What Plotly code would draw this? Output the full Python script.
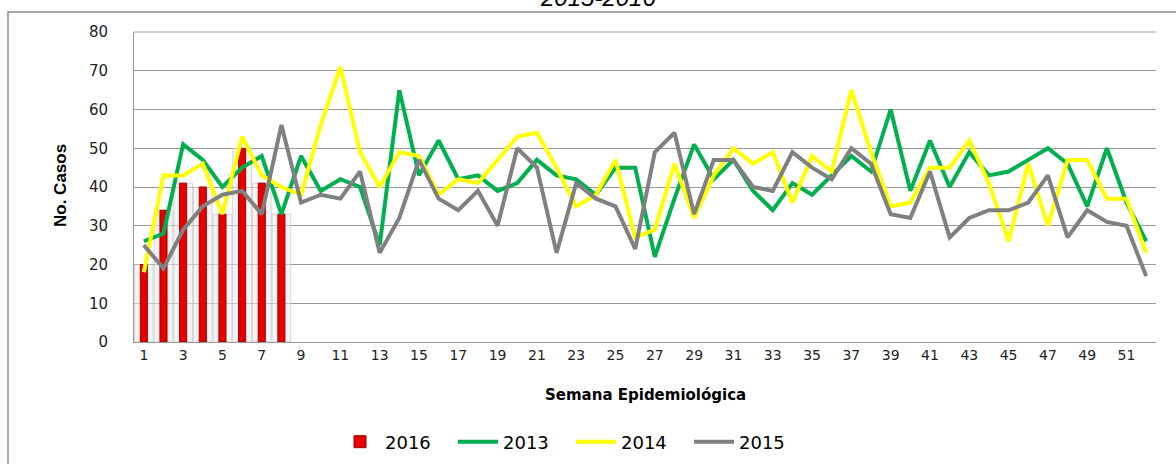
import plotly.graph_objects as go

weeks = list(range(1, 53))
weeks_2016 = list(range(1, 9))
cases_2016 = [20, 34, 41, 40, 33, 50, 41, 33]

cases_2013 = [26, 28, 51, 47, 40, 45, 48, 33, 48, 39, 42, 40, 25, 65, 43, 52, 42, 43, 39, 41,
              47, 43, 42, 38, 45, 45, 22, 37, 51, 42, 47, 39, 34, 41, 38, 43, 48, 44, 60, 39,
              52, 40, 49, 43, 44, 47, 50, 46, 35, 50, 36, 26]
cases_2014 = [18, 43, 43, 46, 33, 53, 43, 40, 38, 56, 71, 49, 40, 49, 48, 38, 42, 41, 47, 53,
              54, 45, 35, 38, 47, 27, 29, 46, 32, 43, 50, 46, 49, 36, 48, 44, 65, 49, 35, 36,
              45, 45, 52, 41, 26, 46, 30, 47, 47, 37, 37, 23]
cases_2015 = [25, 19, 29, 35, 38, 39, 33, 56, 36, 38, 37, 44, 23, 32, 47, 37, 34, 39, 30, 50,
              45, 23, 41, 37, 35, 24, 49, 54, 33, 47, 47, 40, 39, 49, 45, 42, 50, 46, 33, 32,
              44, 27, 32, 34, 34, 36, 43, 27, 34, 31, 30, 17]

x_ticks = list(range(1, 53, 2))
y_ticks = list(range(0, 81, 10))

W, H = 1176, 464
L, R, T, B = 134, 1156, 32, 342
pw, ph = R - L, B - T


def px(x):
    return (x - L) / pw


def py(y):
    return (B - y) / ph


fig = go.Figure()

# light shading box behind bars (Excel 3D look)
fig.add_trace(go.Bar(x=weeks_2016, y=cases_2016, width=0.95, showlegend=False, hoverinfo="skip",
                     marker=dict(color="rgba(235,235,235,0.55)",
                                 line=dict(color="rgba(190,190,190,0.6)", width=1))))
fig.add_trace(go.Bar(x=weeks_2016, y=cases_2016, width=0.36, name="2016",
                     marker=dict(color="#E60000", line=dict(color="#A00000", width=1))))

line_specs = [("2013", cases_2013, "#00B050"),
              ("2014", cases_2014, "#FFFF00"),
              ("2015", cases_2015, "#808080")]
for name, vals, col in line_specs:
    fig.add_trace(go.Scatter(x=weeks, y=vals, mode="lines", name=name,
                             line=dict(color=col, width=4)))

fig.update_layout(
    width=W, height=H,
    margin=dict(l=L, r=W - R, t=T, b=H - B, autoexpand=False),
    plot_bgcolor="white", paper_bgcolor="white",
    barmode="overlay",
    font=dict(family="DejaVu Sans", size=14, color="#000000"),
    showlegend=True,
    legend=dict(orientation="h", x=px(335), y=py(442), xanchor="left", yanchor="middle",
                font=dict(family="DejaVu Sans", size=18, color="#000"), traceorder="normal",
                entrywidth=63, entrywidthmode="pixels", itemwidth=40,
                tracegroupgap=0, bgcolor="rgba(0,0,0,0)"),
    xaxis=dict(range=[0.5, 52.5], tickmode="array", tickvals=x_ticks, automargin=False,
               ticktext=[str(v) for v in x_ticks], showgrid=False, zeroline=False,
               showline=True, linecolor="#999999", linewidth=1, ticks="",
               tickfont=dict(family="DejaVu Sans", size=14, color="#222")),
    yaxis=dict(range=[0, 80], tickmode="array", tickvals=y_ticks, showgrid=True, automargin=False,
               gridcolor="#9a9a9a", gridwidth=1, zeroline=False, showline=True,
               linecolor="#999999", linewidth=1, ticks="", ticklabelstandoff=22,
               tickfont=dict(family="DejaVu Sans", size=15, color="#222")),
    shapes=[dict(type="rect", xref="paper", yref="paper", x0=px(8), x1=px(1185),
                 y0=py(475), y1=py(12), line=dict(color="#8c8c8c", width=1.5),
                 fillcolor="rgba(0,0,0,0)", layer="below"),
            dict(type="line", xref="paper", yref="paper", x0=0, x1=1, y0=1, y1=1,
                 line=dict(color="#9a9a9a", width=1))],
    annotations=[
        dict(text="<i>2015-2016</i>", xref="paper", yref="paper", x=px(598), y=py(13),
             xanchor="center", yanchor="bottom", showarrow=False,
             font=dict(family="Liberation Sans", size=24, color="#000")),
        dict(text="<b>Semana Epidemiológica</b>", xref="paper", yref="paper", x=px(645),
             y=py(395), xanchor="center", yanchor="middle", showarrow=False,
             font=dict(family="DejaVu Sans", size=15, color="#000")),
        dict(text="<b>No. Casos</b>", xref="paper", yref="paper", x=px(60), y=py(186),
             xanchor="center", yanchor="middle", showarrow=False, textangle=-90,
             font=dict(family="Liberation Sans Narrow, Liberation Sans", size=17, color="#000")),
    ],
)

fig.write_html("out.html", config={"displayModeBar": False},
               post_script="document.body.style.margin='0';document.body.style.overflow='hidden';")
